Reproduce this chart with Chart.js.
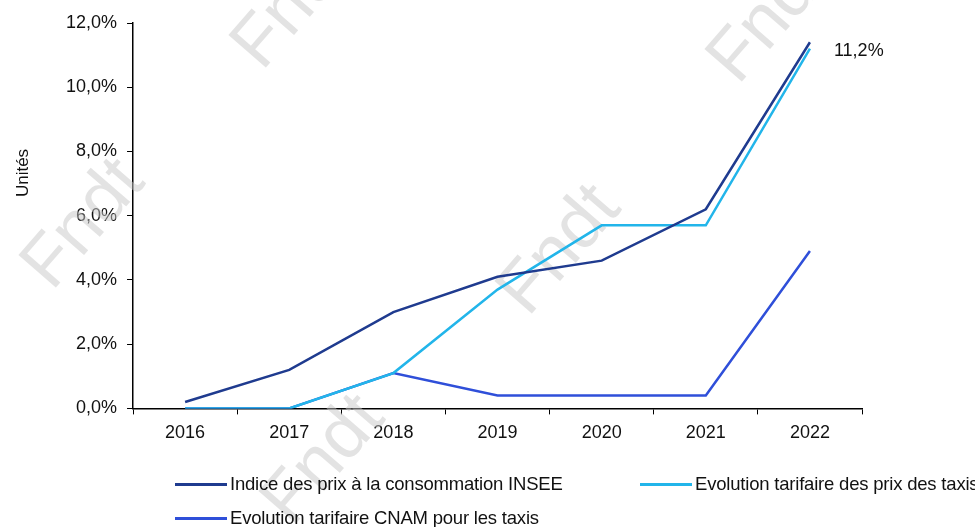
<!DOCTYPE html>
<html>
<head>
<meta charset="utf-8">
<script src="https://cdn.jsdelivr.net/npm/chart.js@4"></script>
<style>
    html, body { margin: 0; padding: 0; background: #fff; }
    #wrap { position: relative; width: 975px; height: 527px; overflow: hidden; }
    #legend {
        position: absolute; left: 175px; top: 467px; width: 1000px;
        font-family: "Liberation Sans", Arial, sans-serif;
        font-size: 18.5px; letter-spacing: -0.2px; color: #111;
    }
    .item { display: inline-flex; align-items: center; height: 34px; white-space: nowrap; }
    .item.first { width: 465px; }
    .item span.line { display: inline-block; width: 52px; height: 3px; margin-right: 3px; }
</style>
</head>
<body>
<div id="wrap">
    <canvas id="chart" width="975" height="527"></canvas>
    <div id="legend"></div>
</div>
<script>
const years = ["2016", "2017", "2018", "2019", "2020", "2021", "2022"];
const insee = [0.2, 1.2, 3.0, 4.1, 4.6, 6.2, 11.4];
const prixTaxis = [0.0, 0.0, 1.1, 3.7, 5.7, 5.7, 11.2];
const cnamTaxis = [0.0, 0.0, 1.1, 0.4, 0.4, 0.4, 4.9];
const yTicks = [0, 2, 4, 6, 8, 10, 12];

const seriesNames = [
    "Indice des prix à la consommation INSEE",
    "Evolution tarifaire des prix des taxis",
    "Evolution tarifaire CNAM pour les taxis",
];
const seriesColors = ["#1f3b8f", "#22b5ea", "#2f4fd9"];

function pct(v) {
    return v.toFixed(1).replace(".", ",") + "%";
}

// watermark "Fndt" behind the lines
const watermark = {
    id: "watermark",
    beforeDatasetsDraw(chart) {
        const ctx = chart.ctx;
        const spots = [[262, 72], [52, 292], [528, 318], [738, 86], [292, 528]];
        ctx.save();
        ctx.fillStyle = "rgba(200, 200, 200, 0.5)";
        ctx.font = "72px 'Liberation Sans', Arial, sans-serif";
        ctx.textBaseline = "alphabetic";
        spots.forEach(p => {
            ctx.save();
            ctx.translate(p[0], p[1]);
            ctx.rotate(-49 * Math.PI / 180);
            ctx.fillText("Fndt", 0, 0);
            ctx.restore();
        });
        ctx.restore();
    },
};

// y title and last value label
const extras = {
    id: "extras",
    afterDatasetsDraw(chart) {
        const ctx = chart.ctx;
        const area = chart.chartArea;
        ctx.save();
        ctx.fillStyle = "#111";
        ctx.font = "17px 'Liberation Sans', Arial, sans-serif";

        ctx.save();
        ctx.translate(23, area.top + 150);
        ctx.rotate(-Math.PI / 2);
        ctx.textAlign = "center";
        ctx.textBaseline = "middle";
        ctx.fillText("Unités", 0, 0);
        ctx.restore();

        const meta = chart.getDatasetMeta(1);
        const last = meta.data[meta.data.length - 1];
        ctx.font = "18px 'Liberation Sans', Arial, sans-serif";
        ctx.textAlign = "left";
        ctx.textBaseline = "middle";
        ctx.fillText(pct(prixTaxis[prixTaxis.length - 1]), last.x + 24, last.y + 2);
        ctx.restore();
    },
};

const datasets = [insee, prixTaxis, cnamTaxis].map((d, i) => ({
    label: seriesNames[i],
    data: d,
    borderColor: seriesColors[i],
    backgroundColor: seriesColors[i],
    borderWidth: 2.5,
    pointRadius: 0,
    tension: 0,
}));

new Chart(document.getElementById("chart"), {
    type: "line",
    data: { labels: years, datasets: datasets },
    options: {
        responsive: false,
        animation: false,
        layout: { padding: { left: 56, right: 113, top: 23, bottom: 75 } },
        plugins: { legend: { display: false }, tooltip: { enabled: false } },
        scales: {
            x: {
                offset: true,
                border: { color: "#000", width: 1.5 },
                grid: { drawOnChartArea: false, drawTicks: true, tickLength: 6, color: "#000", offset: true },
                ticks: { color: "#111", font: { family: "'Liberation Sans', Arial", size: 18 }, padding: 8 },
            },
            y: {
                min: 0,
                max: 12,
                afterBuildTicks: axis => {
                    axis.ticks = yTicks.map(v => ({ value: v }));
                },
                border: { color: "#000", width: 1.5 },
                grid: { drawOnChartArea: false, drawTicks: true, tickLength: 6, color: "#000" },
                ticks: {
                    color: "#111",
                    font: { family: "'Liberation Sans', Arial", size: 18 },
                    padding: 10,
                    callback: v => pct(v),
                },
            },
        },
    },
    plugins: [watermark, extras],
});

// html legend
const legendEl = document.getElementById("legend");
seriesNames.forEach((name, i) => {
    const item = document.createElement("div");
    item.className = i === 0 ? "item first" : "item";
    const line = document.createElement("span");
    line.className = "line";
    line.style.background = seriesColors[i];
    item.appendChild(line);
    item.appendChild(document.createTextNode(name));
    legendEl.appendChild(item);
    if (i === 1) legendEl.appendChild(document.createElement("br"));
});
</script>
</body>
</html>
